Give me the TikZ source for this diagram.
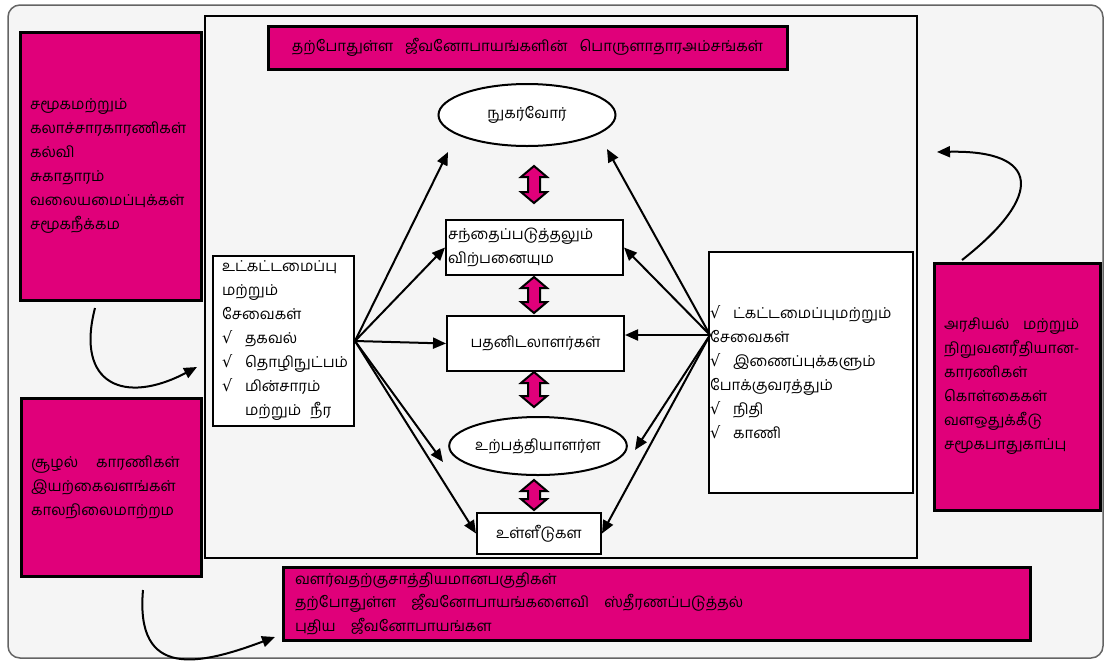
\documentclass[tikz,border=0pt]{standalone}
\usepackage{fontspec}
\newfontfamily\tamil[Script=Tamil]{Hind Madurai}
\newfontfamily\djv{DejaVu Serif}
\usetikzlibrary{arrows.meta,shapes.geometric}
\definecolor{mag}{RGB}{224,0,122}
\definecolor{bgc}{RGB}{245,245,245}
\definecolor{framec}{RGB}{100,100,100}
\newcommand\chk{\makebox[23pt][l]{\djv\fontsize{16}{16}\selectfont √}}
\newcommand\dblarrow[3]{%
  \filldraw[blk] (#1,#2) -- ++(13,11) -- ++(-7,0) -- (#1+6,#3-11) -- ++(7,0) -- (#1,#3) -- ++(-13,-11) -- ++(7,0) -- (#1-6,#2+11) -- ++(-7,0) -- cycle;}
\begin{document}
\begin{tikzpicture}[x=1pt,y=-1pt,
  every node/.style={font=\tamil\fontsize{15}{24}\selectfont, inner sep=0pt},
  magbox/.style={draw=black, line width=3pt, fill=mag},
  whbox/.style={draw=black, line width=2pt, fill=white},
  arr/.style={line width=2pt, -{Triangle[length=13pt,width=11pt]}},
  curv/.style={line width=2pt, -{Triangle[length=13pt,width=11pt]}},
  blk/.style={draw=black, line width=2pt, fill=mag, line join=miter}]
\useasboundingbox (0,0) rectangle (1110,662);
\fill[white] (0,0) rectangle (1110,662);
\draw[framec, fill=bgc, line width=1.5pt, rounded corners=12pt] (8,5) rectangle (1103,658);
\node[draw=black, line width=2pt, minimum width=712pt, minimum height=542pt] (main) at (561,287) {};
% title
\node[magbox, minimum width=519pt, minimum height=43pt] (title) at (527.5,47.5)
  {தற்போதுள்ள\hspace{0.8em}ஜீவனோபாயங்களின்\hspace{0.8em}பொருளாதாரஅம்சங்கள்};
% left magenta boxes
\node[magbox, text width=161pt, inner xsep=10pt, minimum height=268pt, align=left] (lm1) at (110.5,166)
  {சமூகமற்றும்\\கலாச்சாரகாரணிகள்\\கல்வி\\சுகாதாரம்\\வலையமைப்புக்கள்\\சமூகநீக்கம};
\node[magbox, text width=160pt, inner xsep=10pt, minimum height=178pt, align=left] (lm2) at (111,487)
  {சூழல்\hspace{1.2em}காரணிகள்\\இயற்கைவளங்கள்\\காலநிலைமாற்றம};
% right magenta
\node[magbox, text width=146pt, inner xsep=10pt, minimum height=247pt, align=left] (rm) at (1017,386.5)
  {\mbox{அரசியல்\hspace{0.9em}மற்றும்}\\\mbox{நிறுவனரீதியான-}\\காரணிகள்\\கொள்கைகள்\\வளஒதுக்கீடு\\சமூகபாதுகாப்பு};
% bottom magenta
\node[magbox, text width=723pt, inner xsep=12pt, minimum height=73pt, align=left,
  font=\tamil\fontsize{15}{23.5}\selectfont] (bm) at (656.5,603.5)
  {வளர்வதற்குசாத்தியமானபகுதிகள்\\தற்போதுள்ள\hspace{1em}ஜீவனோபாயங்களைவி\hspace{1em}ஸ்தீரணப்படுத்தல்\\புதிய\hspace{1em}ஜீவனோபாயங்கள};
% left white box
\node[whbox, text width=123pt, inner xsep=9pt, minimum height=170pt, align=left] (lbox) at (283.5,341)
  {உட்கட்டமைப்பு\\மற்றும்\\சேவைகள்\\\chk தகவல்\\\chk தொழிநுட்பம்\\\chk மின்சாரம்\\\hspace*{23pt}மற்றும்\hspace{0.6em}நீர};
% right white box
\node[whbox, text width=202pt, inner xsep=1pt, minimum height=241pt, align=left] (rbox) at (811,372.5)
  {\chk ட்கட்டமைப்புமற்றும்\\சேவைகள்\\\chk இணைப்புக்களும்\\போக்குவரத்தும்\\\chk நிதி\\\chk காணி};
% centre column
\node[whbox, ellipse, minimum width=177pt, minimum height=62pt] (cons) at (527,115) {நுகர்வோர்};
\node[whbox, text width=173pt, inner xsep=2pt, minimum height=55pt, align=left] (mkt) at (534.5,247.5)
  {சந்தைப்படுத்தலும்\\விற்பனையும};
\node[whbox, minimum width=177pt, minimum height=55pt] (pat) at (535.5,343.5) {பதனிடலாளர்கள்};
\node[whbox, ellipse, minimum width=177pt, minimum height=58pt] (prod) at (538,446) {உற்பத்தியாளர்ள};
\node[whbox, minimum width=124pt, minimum height=41pt] (ull) at (539,533.5) {உள்ளீடுகள};
% block arrows
\dblarrow{534}{166}{203}
\dblarrow{534}{277}{313}
\dblarrow{534}{372}{407}
\dblarrow{534}{480}{510}
% connectors
\coordinate (cL) at (448,152);
\coordinate (cR) at (607,149);
\coordinate (pL) at (443,462);
\coordinate (pR) at (635,450);
\coordinate (rsrc) at (710,335);
\draw[arr] (lbox.east) -- (cL);
\draw[arr] (lbox.east) -- (mkt.west);
\draw[arr] (lbox.east) -- (pat.west);
\draw[arr] (lbox.east) -- (pL);
\draw[arr] (lbox.east) -- (ull.west);
\draw[arr] (rsrc) -- (cR);
\draw[arr] (rsrc) -- (mkt.east);
\draw[arr] (rsrc) -- (rsrc -| pat.east);
\draw[arr] (rsrc) -- (pR);
\draw[arr] (rsrc) -- (ull.east);
% curved arrows
\coordinate (c1s) at (95,308);
\coordinate (c1e) at (197,367);
\coordinate (c2s) at (143,590);
\coordinate (c2e) at (275,637);
\coordinate (c3s) at (962,260);
\coordinate (c3e) at (937,152);
\draw[curv] (c1s) .. controls (75,385) and (125,405) .. (c1e);
\draw[curv] (c2s) .. controls (135,680) and (200,665) .. (c2e);
\draw[curv] (c3s) .. controls (1045,195) and (1040,150) .. (c3e);
\end{tikzpicture}
\end{document}
